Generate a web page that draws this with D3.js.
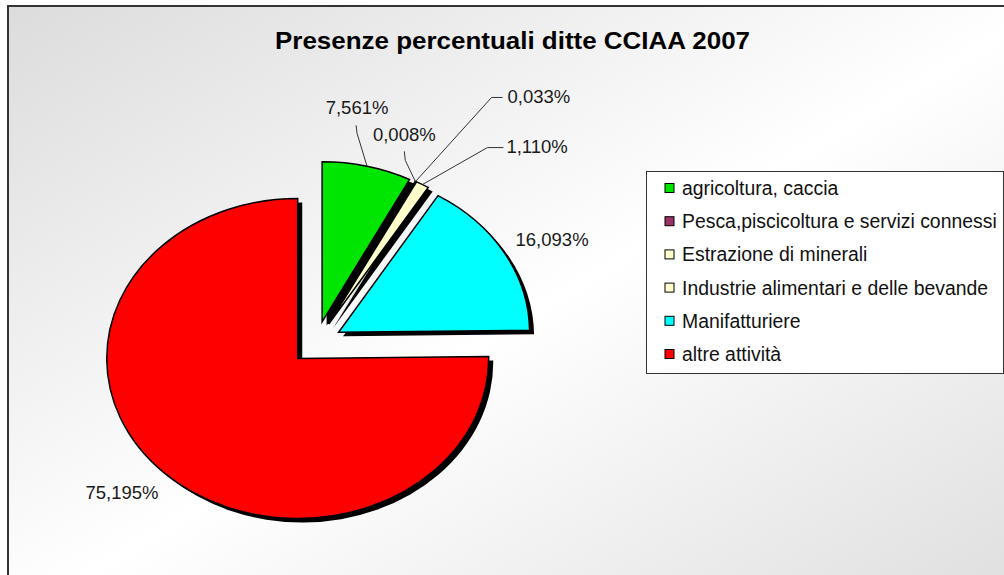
<!DOCTYPE html>
<html>
<head>
    <title>Presenze percentuali ditte CCIAA 2007</title>
    <style>
        body {
            margin: 0;
            padding: 0;
            background: #ffffff;
            font-family: "Liberation Sans", Arial, sans-serif;
        }
        svg { display: block; }
        .slice { stroke: #000000; stroke-width: 1.5; }
        .leader { fill: none; stroke: #333333; stroke-width: 1; }
        .data-label { font-size: 18.5px; fill: #1a1a1a; }
        .legend-text { font-size: 19.4px; fill: #111111; }
    </style>
</head>
<body>
    <svg id="chart" width="1004" height="575"></svg>

    <script src="https://d3js.org/d3.v7.min.js"></script>
    <script>
        // chart data
        const categories = [
            'agricoltura, caccia',
            'Pesca,piscicoltura e servizi connessi',
            'Estrazione di minerali',
            'Industrie alimentari e delle bevande',
            'Manifatturiere',
            'altre attività'
        ];
        const percentages = [7.561, 0.008, 0.033, 1.110, 16.093, 75.195];
        const sliceColors = ['#00e600', '#993366', '#ffffcc', '#ffffcc', '#00ffff', '#ff0000'];
        const titleText = 'Presenze percentuali ditte CCIAA 2007';

        // layout (pixels)
        const width = 1004, height = 575;
        const cx = 316, cy = 343;       // pie centre
        const rx = 191, ry = 160;       // ellipse radii
        const explode = 26;             // slice explosion
        const shadow = { dx: 4.5, dy: 4 };
        const ky = ry / rx;

        // label placement relative to the outer mid-point of each slice
        const labelLayout = [
            { dx: -10, dy: -52, anchor: 'middle', leader: [[-10, -33], [-11, -41]] },
            { dx: -11, dy: -40, anchor: 'middle', leader: [[-10, -21], [-11, -30]] },
            { dx: 92, dy: -78, anchor: 'start', leader: [[76, -84], [87, -84]] },
            { dx: 84, dy: -32, anchor: 'start', leader: [[65, -37], [81, -37]] },
            { dx: 11, dy: -7, anchor: 'start', leader: null },
            { dx: -5, dy: 27, anchor: 'end', leader: null }
        ];

        const itFormat = d3.formatLocale({
            decimal: ',', thousands: '.', grouping: [3], currency: ['', ' €']
        }).format('.3f');

        const svg = d3.select('#chart');

        // background gradient of the chart area
        const defs = svg.append('defs');
        const grad = defs.append('linearGradient')
            .attr('id', 'bg-grad')
            .attr('x1', 0).attr('y1', 0).attr('x2', 1).attr('y2', 1);
        grad.append('stop').attr('offset', '0%').attr('stop-color', '#dcdcdc');
        grad.append('stop').attr('offset', '50%').attr('stop-color', '#ffffff');
        grad.append('stop').attr('offset', '100%').attr('stop-color', '#dcdcdc');

        svg.append('rect')
            .attr('x', 8).attr('y', 6)
            .attr('width', width + 40).attr('height', height + 40)
            .attr('fill', 'url(#bg-grad)')
            .attr('stroke', '#333333')
            .attr('stroke-width', 2);

        // title
        svg.append('text')
            .attr('x', 512.5)
            .attr('y', 49)
            .attr('text-anchor', 'middle')
            .attr('font-size', '24px')
            .attr('font-weight', 'bold')
            .attr('fill', '#000000')
            .attr('textLength', 475)
            .attr('lengthAdjust', 'spacingAndGlyphs')
            .text(titleText);

        // pie
        const pie = d3.pie().sort(null).value(d => d)(percentages);
        const arc = d3.arc().innerRadius(0).outerRadius(rx);

        const pieG = svg.append('g')
            .attr('transform', `translate(${cx},${cy}) scale(1,${ky})`);

        const midAngle = d => (d.startAngle + d.endAngle) / 2;

        const slices = pieG.selectAll('g.slice-g')
            .data(pie)
            .join('g')
            .attr('class', 'slice-g')
            .attr('transform', d => {
                const m = midAngle(d);
                return `translate(${explode * Math.sin(m)},${-explode * Math.cos(m)})`;
            });

        // shadows first
        slices.append('path')
            .attr('d', arc)
            .attr('fill', '#000000')
            .attr('transform', `translate(${shadow.dx},${shadow.dy / ky})`);

        slices.append('path')
            .attr('class', 'slice')
            .attr('d', arc)
            .attr('fill', (d, i) => sliceColors[i])
            .style('vector-effect', 'non-scaling-stroke');

        // data labels
        const labelG = svg.append('g');
        pie.forEach((d, i) => {
            const m = midAngle(d);
            const px = cx + (explode + rx) * Math.sin(m);
            const py = cy - (explode + rx) * ky * Math.cos(m);
            const lay = labelLayout[i];
            if (lay.leader) {
                const pts = [[px, py]].concat(lay.leader.map(p => [px + p[0], py + p[1]]));
                labelG.append('path')
                    .attr('class', 'leader')
                    .attr('d', d3.line()(pts));
            }
            labelG.append('text')
                .attr('class', 'data-label')
                .attr('x', px + lay.dx)
                .attr('y', py + lay.dy)
                .attr('text-anchor', lay.anchor)
                .text(itFormat(percentages[i]) + '%');
        });

        // legend
        const legend = svg.append('g');
        legend.append('rect')
            .attr('x', 646.5).attr('y', 171.5)
            .attr('width', 357).attr('height', 202)
            .attr('fill', '#ffffff')
            .attr('stroke', '#333333')
            .attr('stroke-width', 1);

        const rowY = d3.scalePoint()
            .domain(categories)
            .range([188, 354]);

        const items = legend.selectAll('g.item')
            .data(categories)
            .join('g')
            .attr('class', 'item')
            .attr('transform', d => `translate(0,${rowY(d)})`);

        items.append('rect')
            .attr('x', 665).attr('y', -4.5)
            .attr('width', 9).attr('height', 9)
            .attr('fill', (d, i) => sliceColors[i])
            .attr('stroke', '#000000')
            .attr('stroke-width', 1);

        items.append('text')
            .attr('class', 'legend-text')
            .attr('x', 682)
            .attr('y', 7)
            .text(d => d);
    </script>
</body>
</html>
